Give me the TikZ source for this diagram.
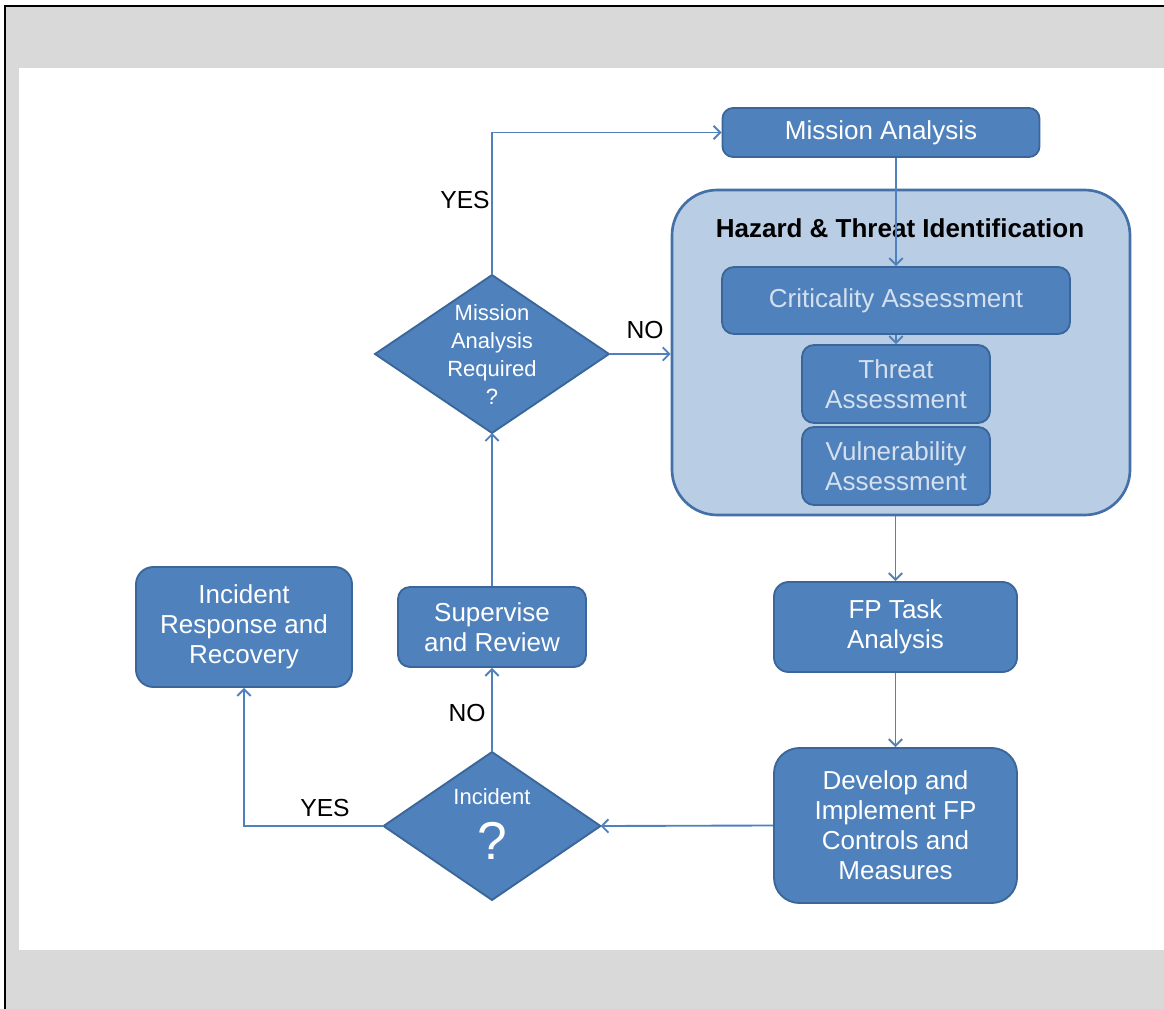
\documentclass[tikz,border=0pt]{standalone}
\usepackage{fontspec}
\setmainfont{Liberation Sans}
\usetikzlibrary{shapes.geometric,arrows.meta}
\definecolor{boxfill}{HTML}{4F81BD}
\definecolor{boxline}{HTML}{3B6699}
\definecolor{hzfill}{HTML}{B9CDE5}
\definecolor{hzline}{HTML}{4470A8}
\definecolor{conncol}{HTML}{4F81BD}
\definecolor{paletext}{HTML}{D5E0EE}
\definecolor{bggrey}{HTML}{D9D9D9}
\newcommand\bxfont{\fontsize{19.5}{22.5}\selectfont}
\newcommand\dtfont{\fontsize{16.5}{21}\selectfont}
\newcommand\lbfont{\fontsize{18.5}{20}\selectfont}
\tikzset{
  sz/.style 2 args={minimum width=#1*0.75pt, minimum height=#2*0.75pt},
  box/.style={draw=boxline, line width=1.4pt, fill=boxfill, text=white,
    align=center, inner sep=0pt, font=\bxfont},
  innerbox/.style={box, text=paletext},
  dia/.style={shape=diamond, draw=boxline, line width=1.4pt, fill=boxfill,
    inner sep=0pt, outer sep=0pt},
  diatext/.style={text=white, align=center, font=\dtfont, inner sep=0pt},
  lbl/.style={text=black, font=\lbfont, inner sep=0pt},
  conn/.style={draw=conncol, line width=1.4pt,
    -{Straight Barb[length=5pt,width=10pt,line width=1.4pt]}},
}
\begin{document}
\begin{tikzpicture}[x=0.75pt,y=-0.75pt]
\useasboundingbox (0,0) rectangle (1164,1009);
% background frame
\fill[bggrey] (5,5) rectangle (1164,1009);
\fill[white] (19,68) rectangle (1164,950);
\draw[black, line width=1.8pt] (5,1009) -- (5,6) -- (1164,6);

% container
\node[draw=hzline, line width=2pt, fill=hzfill, rounded corners=34pt, sz={458}{325}] (hz) at (901,352.5) {};
\node[text=black, font=\bxfont\bfseries, inner sep=0pt] (hzt) at (900,228) {Hazard \& Threat Identification};

% boxes
\node[box, rounded corners=8pt, sz={317}{49}] (ma) at (881,132.5) {Mission Analysis};
\node[innerbox, rounded corners=9pt, sz={348}{67}] (crit) at (896,300.5) {Criticality Assessment};
\node[innerbox, rounded corners=9pt, sz={188}{78}] (thr) at (896,384) {Threat\\Assessment};
\node[innerbox, rounded corners=9pt, sz={188}{78}] (vul) at (896,466) {Vulnerability\\Assessment};
\node[box, rounded corners=11pt, sz={243}{90}] (fp) at (895.5,627) {FP Task\\Analysis};
\node[box, rounded corners=19pt, sz={243}{155}] (dev) at (895.5,825.5) {Develop and\\Implement FP\\Controls and\\Measures};
\node[box, rounded corners=9pt, sz={188}{80}] (sup) at (492,627) {Supervise\\and Review};
\node[box, rounded corners=13pt, sz={216}{120}] (irr) at (244,627) {Incident\\Response and\\Recovery};

% diamonds
\node[dia, sz={234}{158}] (mar) at (492,354) {};
\node[diatext] (mart) at (492,355) {Mission\\Analysis\\Required\\?};
\node[dia, sz={217}{148}] (inc) at (492,826) {};
\node[diatext] (inct) at (492,797) {Incident};
\node[text=white, font=\fontsize{40}{44}\selectfont, inner sep=0pt] (incq) at (492,841) {?};

% connectors
\draw[conn] (mar.north) |- (ma.west);
\draw[conn] (mar.east) -- (mar.east -| hz.west);
\draw[conn] (crit.north |- ma.south) -- (crit.north);
\draw[conn] (crit.south) -- (thr.north);
\draw[conn] (fp.north |- hz.south) -- (fp.north);
\draw[conn] (fp.south) -- (dev.north);
\draw[conn] (dev.west) -- (inc.east);
\draw[conn] (inc.west) -| (irr.south);
\draw[conn] (inc.north) -- (sup.south);
\draw[conn] (sup.north) -- (mar.south);

% labels
\node[lbl] (lyes1) at (465,200) {YES};
\node[lbl] (lno1) at (645,330) {NO};
\node[lbl] (lno2) at (467,713) {NO};
\node[lbl] (lyes2) at (325,808) {YES};
\end{tikzpicture}
\end{document}
